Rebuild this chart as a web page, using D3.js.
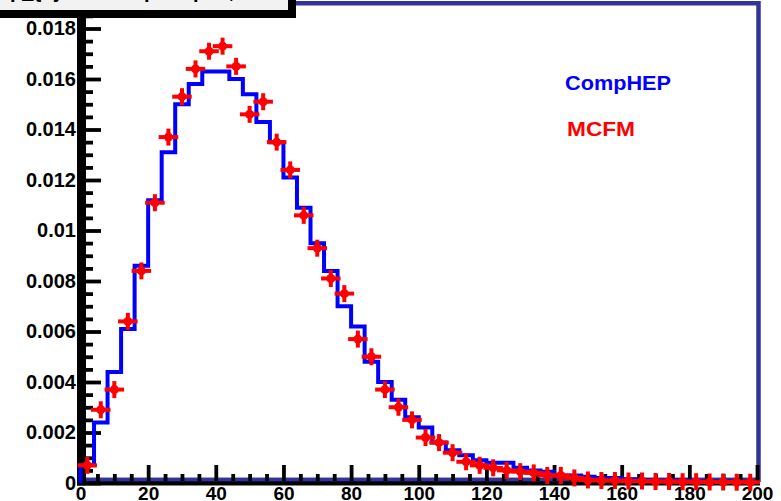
<!DOCTYPE html>
<html>
<head>
<meta charset="utf-8">
<script src="https://cdn.jsdelivr.net/npm/d3@7"></script>
<style>
  html, body { margin: 0; padding: 0; background: #ffffff; overflow: hidden; }
  svg { display: block; font-family: "Liberation Sans", Arial, Helvetica, sans-serif; font-weight: bold; }
</style>
</head>
<body>
<svg id="chart" width="781" height="501"></svg>
<script>
// Lower edges of the 4 GeV bins
const binLow = [0, 4, 8, 12, 16, 20, 24, 28, 32, 36, 40, 44, 48, 52, 56, 60, 64, 68, 72, 76,
                80, 84, 88, 92, 96, 100, 104, 108, 112, 116, 120, 124, 128, 132, 136, 140, 144, 148, 152, 156,
                160, 164, 168, 172, 176, 180, 184, 188, 192, 196];
const binWidth = 4;

// CompHEP histogram (normalised)
const compHEP = [0.0007, 0.0024, 0.0044, 0.0061, 0.0086, 0.0112, 0.0131, 0.0150, 0.0158, 0.0163,
                 0.0163, 0.0160, 0.0154, 0.0143, 0.0135, 0.0121, 0.0109, 0.0095, 0.0084, 0.0070,
                 0.0062, 0.0048, 0.0040, 0.0033, 0.0026, 0.0022, 0.0016, 0.0013, 0.0011, 0.0009,
                 0.0008, 0.0008, 0.0006, 0.0005, 0.00045, 0.0003, 0.0003, 0.00025, 0.0002, 0.0002,
                 0.00015, 0.00012, 0.0001, 0.0001, 0.0001, 0.00008, 0.00006, 0.00006, 0.00005, 0.00004];

// MCFM points (normalised), one per bin
const mcfm = [0.0007, 0.0029, 0.0037, 0.0064, 0.0084, 0.0111, 0.0137, 0.0153, 0.0164, 0.0171,
              0.0173, 0.0165, 0.0146, 0.0151, 0.0135, 0.0124, 0.0106, 0.0093, 0.0081, 0.0075,
              0.0057, 0.0050, 0.0037, 0.0030, 0.0025, 0.0018, 0.0016, 0.0012, 0.00084, 0.0007,
              0.0006, 0.0005, 0.00045, 0.0004, 0.0003, 0.0003, 0.0002, 0.00012, 0.0001, 0.0001,
              0.00008, 0.00008, 0.00006, 0.00006, 0.00005, 0.00005, 0.00004, 0.00004, 0.00003, 0.00003];

const seriesNames = ["CompHEP", "MCFM"];
const titleText = "p_{T} of the lepton pair, GeV";

const xMajor = [0, 20, 40, 60, 80, 100, 120, 140, 160, 180, 200];
const xLabels = ["0", "20", "40", "60", "80", "100", "120", "140", "160", "180", "200"];
const yMajor = [0, 0.002, 0.004, 0.006, 0.008, 0.01, 0.012, 0.014, 0.016, 0.018];
const yLabels = ["0", "0.002", "0.004", "0.006", "0.008", "0.01", "0.012", "0.014", "0.016", "0.018"];

const svg = d3.select("#chart");

const x = d3.scaleLinear().domain([0, 200]).range([80.5, 757]);
const y = d3.scaleLinear().domain([0, 0.019]).range([483, 3.25]);

const xMinor = d3.range(0, 200.01, 5).filter(v => !xMajor.includes(v));
const yMinor = d3.range(0, 0.01851, 0.0005).map(v => +v.toFixed(4)).filter(v => !yMajor.some(m => Math.abs(m - v) < 1e-9));

// frame
svg.append("rect")
  .attr("x", x(0)).attr("y", y(0.019))
  .attr("width", x(200) + 1.5 - x(0)).attr("height", 479.8 - y(0.019))
  .attr("fill", "none").attr("stroke", "#333399").attr("stroke-width", 4.5);

// y axis: ticks point into the plot, labels on the left
const yTickG = svg.append("g").attr("transform", `translate(86,0)`);
yTickG.call(d3.axisRight(y).tickValues(yMajor).tickSize(15).tickFormat("").tickSizeOuter(0));
yTickG.append("g").call(d3.axisRight(y).tickValues(yMinor).tickSize(7).tickFormat("").tickSizeOuter(0));
yTickG.selectAll(".domain").remove();
yTickG.selectAll(".tick line").attr("stroke", "#000").attr("stroke-width", 3.8);

const yLabG = svg.append("g").attr("transform", `translate(77,0)`)
  .call(d3.axisLeft(y).tickValues(yMajor).tickSize(0).tickPadding(1)
    .tickFormat((d, i) => yLabels[i]));
yLabG.select(".domain").remove();
yLabG.selectAll("text").attr("font-size", 20).attr("font-weight", "bold")
  .attr("font-family", "Liberation Sans, Arial, sans-serif").attr("fill", "#000");

// x axis: ticks point up into the plot
const xTickG = svg.append("g").attr("transform", `translate(0,481)`);
xTickG.call(d3.axisTop(x).tickValues(xMajor).tickSize(16).tickFormat("").tickSizeOuter(0));
xTickG.append("g").call(d3.axisTop(x).tickValues(xMinor).tickSize(7).tickFormat("").tickSizeOuter(0));
xTickG.selectAll(".domain").remove();
xTickG.selectAll(".tick line").attr("stroke", "#000").attr("stroke-width", 3.8);

const xLabG = svg.append("g").attr("transform", `translate(0,484)`)
  .call(d3.axisBottom(x).tickValues(xMajor).tickSize(0).tickPadding(2)
    .tickFormat((d, i) => xLabels[i]));
xLabG.select(".domain").remove();
xLabG.selectAll("text").attr("font-size", 19).attr("font-weight", "bold")
  .attr("font-family", "Liberation Sans, Arial, sans-serif").attr("fill", "#000");

// axis lines
svg.append("rect").attr("x", 77).attr("y", 14).attr("width", 9).attr("height", 471.5).attr("fill", "#000");
svg.append("rect").attr("x", 77).attr("y", 481.3).attr("width", x(200) + 3 - 77).attr("height", 4.2).attr("fill", "#000");

// CompHEP histogram outline
const stepPts = [[binLow[0], 0]]
  .concat(binLow.map((b, i) => [b, compHEP[i]]))
  .concat([[binLow[binLow.length - 1] + binWidth, compHEP[compHEP.length - 1]]]);
svg.append("path")
  .attr("d", d3.line().x(d => x(d[0])).y(d => y(d[1])).curve(d3.curveStepAfter)(stepPts))
  .attr("fill", "none").attr("stroke", "#0000ff").attr("stroke-width", 4)
  .attr("stroke-linejoin", "miter");

// MCFM points with bin-width bars
const pts = svg.append("g").selectAll("g").data(binLow).join("g");
pts.append("line")
  .attr("x1", d => x(d) - 1).attr("x2", d => x(d + binWidth) + 1)
  .attr("y1", (d, i) => y(mcfm[i])).attr("y2", (d, i) => y(mcfm[i]))
  .attr("stroke", "#ff0000").attr("stroke-width", 4).attr("stroke-linecap", "square");
pts.append("line")
  .attr("x1", d => x(d + binWidth / 2)).attr("x2", d => x(d + binWidth / 2))
  .attr("y1", (d, i) => y(mcfm[i]) - 6.5).attr("y2", (d, i) => y(mcfm[i]) + 6.5)
  .attr("stroke", "#ff0000").attr("stroke-width", 4).attr("stroke-linecap", "square");
pts.append("circle")
  .attr("cx", d => x(d + binWidth / 2)).attr("cy", (d, i) => y(mcfm[i]))
  .attr("r", 4.5).attr("fill", "#ff0000");

// legend
svg.append("text").attr("x", 565).attr("y", 90).attr("font-size", 21)
  .attr("fill", "#0000ff").attr("textLength", 106).attr("lengthAdjust", "spacingAndGlyphs")
  .text(seriesNames[0]);
svg.append("text").attr("x", 567).attr("y", 136).attr("font-size", 21)
  .attr("fill", "#ff0000").attr("textLength", 68).attr("lengthAdjust", "spacingAndGlyphs")
  .text(seriesNames[1]);

// title box, mostly above the top edge
svg.append("rect").attr("x", -10).attr("y", -10).attr("width", 302).attr("height", 24)
  .attr("fill", "#f2f2f2").attr("stroke", "#000").attr("stroke-width", 8);
svg.append("text").attr("x", 10).attr("y", -2).attr("font-size", 20).attr("fill", "#000")
  .attr("textLength", 270).attr("lengthAdjust", "spacingAndGlyphs")
  .text(titleText);
</script>
</body>
</html>
